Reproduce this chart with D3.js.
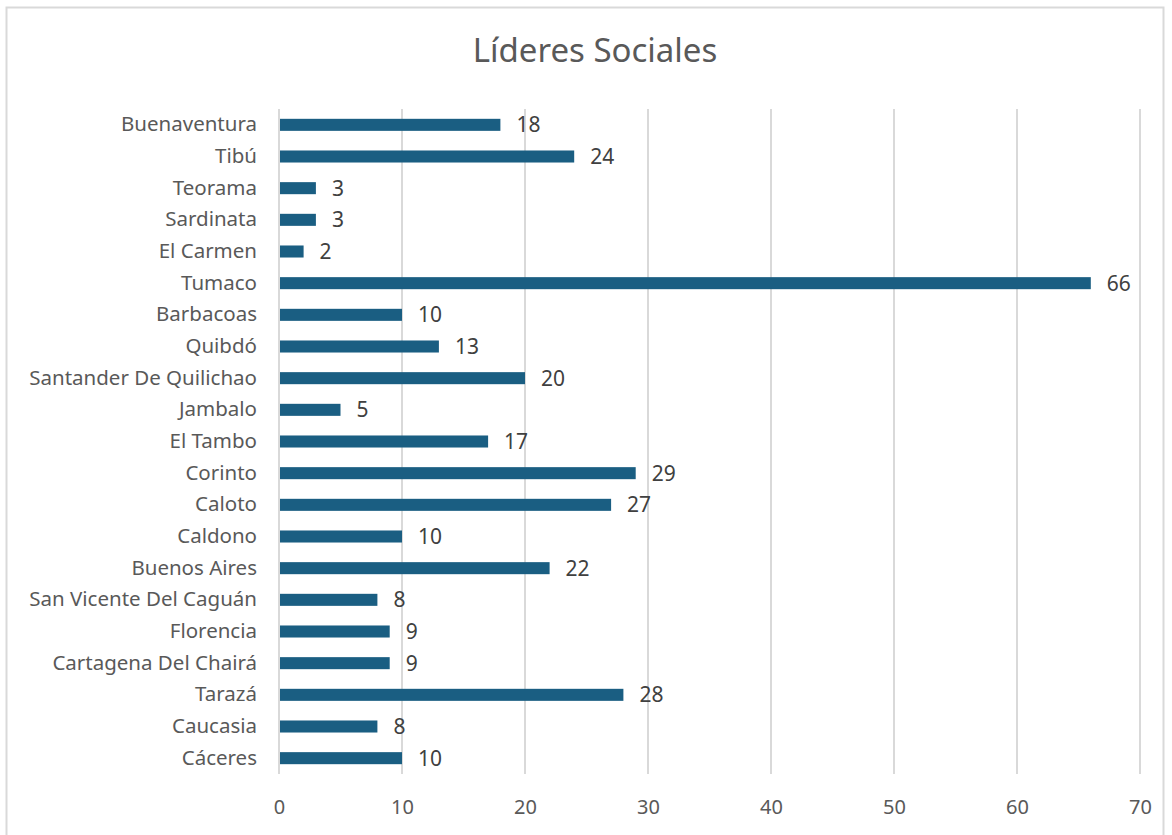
<!DOCTYPE html>
<html lang="es">
<head>
  <meta charset="UTF-8" />
  <title>Líderes Sociales</title>
  <script src="https://d3js.org/d3.v7.min.js"></script>
  <style>
    body {
      margin: 0;
      background: #fff;
      font-family: "Noto Sans", "Open Sans", sans-serif;
    }
    .tick text { fill: #595959; }
  </style>
</head>
<body>
  <svg width="1172" height="835" id="chart"></svg>

  <script>
    // municipios, de arriba hacia abajo
    const municipios = [
      "Buenaventura", "Tibú", "Teorama", "Sardinata", "El Carmen", "Tumaco",
      "Barbacoas", "Quibdó", "Santander De Quilichao", "Jambalo", "El Tambo",
      "Corinto", "Caloto", "Caldono", "Buenos Aires", "San Vicente Del Caguán",
      "Florencia", "Cartagena Del Chairá", "Tarazá", "Caucasia", "Cáceres"
    ];
    const lideres = [18, 24, 3, 3, 2, 66, 10, 13, 20, 5, 17, 29, 27, 10, 22, 8, 9, 9, 28, 8, 10];
    const xTicks = [0, 10, 20, 30, 40, 50, 60, 70];

    const svg = d3.select("#chart");
    const plotLeft = 279, plotRight = 1140, plotTop = 109, plotBottom = 774;

    // marco del gráfico
    svg.append("rect")
      .attr("x", 6.5).attr("y", 7.5)
      .attr("width", 1157).attr("height", 840)
      .attr("fill", "#fff")
      .attr("stroke", "#d9d9d9")
      .attr("stroke-width", 2);

    svg.append("text")
      .attr("x", 595).attr("y", 62)
      .attr("text-anchor", "middle")
      .attr("font-size", 33)
      .attr("fill", "#595959")
      .text("Líderes Sociales");

    const x = d3.scaleLinear().domain([0, 70]).range([plotLeft, plotRight]);
    const y = d3.scaleBand().domain(municipios).range([plotTop, plotBottom]).paddingInner(0.62).paddingOuter(0.31);

    // rejilla vertical
    svg.append("g")
      .selectAll("line")
      .data(xTicks)
      .join("line")
      .attr("x1", d => x(d)).attr("x2", d => x(d))
      .attr("y1", plotTop).attr("y2", plotBottom)
      .attr("stroke", "#d9d9d9")
      .attr("stroke-width", 2);

    // eje x (solo etiquetas)
    const xAxis = svg.append("g")
      .attr("transform", `translate(0,${plotBottom})`)
      .call(d3.axisBottom(x).tickValues(xTicks).tickSize(0).tickPadding(26));
    xAxis.select(".domain").remove();
    xAxis.selectAll("text").attr("font-size", 20).attr("font-family", "Noto Sans, sans-serif");

    // eje y (solo etiquetas)
    const yAxis = svg.append("g")
      .attr("transform", `translate(${plotLeft},0)`)
      .call(d3.axisLeft(y).tickSize(0).tickPadding(22));
    yAxis.select(".domain").remove();
    yAxis.selectAll("text").attr("font-size", 20.5).attr("font-family", "Noto Sans, sans-serif");

    const datos = municipios.map((m, i) => ({ m, v: lideres[i] }));

    svg.append("g")
      .selectAll("rect")
      .data(datos)
      .join("rect")
      .attr("x", x(0) + 1)
      .attr("y", d => y(d.m))
      .attr("width", d => x(d.v) - x(0) - 1)
      .attr("height", y.bandwidth())
      .attr("fill", "#1a5e82");

    svg.append("g")
      .selectAll("text")
      .data(datos)
      .join("text")
      .attr("x", d => x(d.v) + 16)
      .attr("y", d => y(d.m) + y.bandwidth() / 2)
      .attr("dy", "0.36em")
      .attr("font-size", 21)
      .attr("fill", "#404040")
      .text(d => d.v);
  </script>
</body>
</html>
